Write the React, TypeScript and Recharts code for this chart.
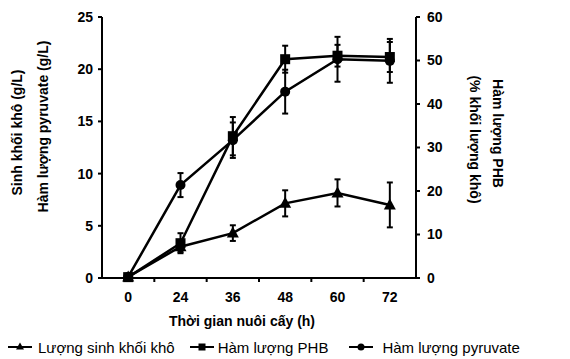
import React from 'react';
import { LineChart, Line, XAxis, YAxis, ErrorBar, Legend } from 'recharts';

const categories = ['0', '24', '36', '48', '60', '72'];
const biomass = [0.1, 3.0, 4.3, 7.15, 8.15, 7.0];
const biomassErr = [0, 0.5, 0.75, 1.25, 1.3, 2.15];
const phb = [0.2, 8.0, 32.6, 50.3, 51.1, 50.8];
const phbErr = [0, 2.3, 4.4, 3.1, 2.5, 3.45];
const pyruvate = [0.1, 8.9, 13.2, 17.85, 20.95, 20.8];
const pyruvateErr = [0, 1.15, 1.7, 2.1, 2.15, 2.1];

const leftTicks = [0, 5, 10, 15, 20, 25];
const rightTicks = [0, 10, 20, 30, 40, 50, 60];

const seriesNames = ['Lượng sinh khối khô', 'Hàm lượng PHB', 'Hàm lượng pyruvate'];
const xTitle = 'Thời gian nuôi cấy (h)';
const leftTitle = ['Sinh khối khô (g/L)', 'Hàm lượng pyruvate (g/L)'];
const rightTitle = ['Hàm lượng PHB', '(% khối lượng khô)'];

const data = categories.map((c, i) => ({
  t: c,
  biomass: biomass[i],
  biomassErr: biomassErr[i],
  phb: phb[i],
  phbErr: phbErr[i],
  pyruvate: pyruvate[i],
  pyruvateErr: pyruvateErr[i],
}));

const FONT = '"Liberation Sans", Arial, sans-serif';

const Tri = (p: any) => {
  const { cx, cy } = p;
  if (cx == null || cy == null) return <g key={p.index} />;
  return (
    <polygon key={p.index} points={`${cx},${cy - 6.5} ${cx - 6},${cy + 4.5} ${cx + 6},${cy + 4.5}`} fill="#000" />
  );
};
const Sq = (p: any) => {
  const { cx, cy } = p;
  if (cx == null || cy == null) return <g key={p.index} />;
  return <rect key={p.index} x={cx - 5} y={cy - 5} width={10} height={10} fill="#000" />;
};
const Circ = (p: any) => {
  const { cx, cy } = p;
  if (cx == null || cy == null) return <g key={p.index} />;
  return <circle key={p.index} cx={cx} cy={cy} r={5} fill="#000" />;
};

const XTick = (props: any) => {
  const { x, y, payload, index, visibleTicksCount } = props;
  const half = payload.offset || 0;
  return (
    <g>
      {index < visibleTicksCount - 1 && (
        <line x1={x + half} x2={x + half} y1={y} y2={y + 4} stroke="#000" strokeWidth={2} />
      )}
      <text x={x} y={y + 24} textAnchor="middle" fontFamily={FONT} fontSize={14} fontWeight="bold" fill="#000">
        {payload.value}
      </text>
    </g>
  );
};

const LegendIcon = ({ kind }: { kind: number }) => (
  <svg width={26} height={12} style={{ display: 'block' }}>
    <line x1={1} x2={25} y1={6} y2={6} stroke="#000" strokeWidth={2} />
    {kind === 0 && <polygon points="13,1.5 9,8.5 17,8.5" fill="#000" />}
    {kind === 1 && <rect x={9.5} y={2.5} width={7} height={7} fill="#000" />}
    {kind === 2 && <circle cx={13} cy={6} r={3.5} fill="#000" />}
  </svg>
);

const gaps = [14, 20, 0];
const iconGaps = [5, 3, 8];

const renderLegend = () => (
  <div style={{ display: 'flex', alignItems: 'center', height: 24, paddingLeft: 7, fontFamily: FONT, fontSize: 15, color: '#000' }}>
    {seriesNames.map((n, i) => (
      <div key={n} style={{ display: 'flex', alignItems: 'center', marginRight: gaps[i] }}>
        <LegendIcon kind={i} />
        <span style={{ marginLeft: iconGaps[i], whiteSpace: 'nowrap' }}>{n}</span>
      </div>
    ))}
  </div>
);

export default function App() {
  return (
    <div style={{ position: 'absolute', left: 0, top: 0, width: 570, height: 359, background: '#fff' }}>
      <LineChart width={570} height={359} data={data} margin={{ top: 17, right: 0, left: 0, bottom: 0 }}>
        <XAxis
          dataKey="t"
          type="category"
          scale="band"
          height={57}
          tickSize={0}
          tickMargin={0}
          axisLine={{ stroke: '#000', strokeWidth: 2 }}
          tick={<XTick />}
          interval={0}
          label={{
            content: (p: any) => {
              const vb = p.viewBox;
              return (
                <text x={vb.x + vb.width / 2 - 17} y={vb.y + 48} textAnchor="middle" fontFamily={FONT} fontSize={14} fontWeight="bold" fill="#000">
                  {xTitle}
                </text>
              );
            },
          }}
        />
        <YAxis
          yAxisId="left"
          orientation="left"
          width={102}
          domain={[0, 25]}
          ticks={leftTicks}
          interval={0}
          tickSize={4}
          tickMargin={5}
          axisLine={{ stroke: '#000', strokeWidth: 2 }}
          tickLine={{ stroke: '#000', strokeWidth: 2 }}
          tick={{ fontFamily: FONT, fontSize: 14, fontWeight: 'bold', fill: '#000' }}
          label={{
            content: (p: any) => {
              const vb = p.viewBox;
              const cy = vb.y + vb.height / 2 - 15;
              return (
                <g fontFamily={FONT} fontSize={14} fontWeight="bold" fill="#000">
                  <text x={22} y={cy} transform={`rotate(-90, 22, ${cy})`} textAnchor="middle">{leftTitle[0]}</text>
                  <text x={48} y={cy - 6} transform={`rotate(-90, 48, ${cy - 6})`} textAnchor="middle">{leftTitle[1]}</text>
                </g>
              );
            },
          }}
        />
        <YAxis
          yAxisId="right"
          orientation="right"
          width={154}
          domain={[0, 60]}
          ticks={rightTicks}
          interval={0}
          tickSize={4}
          tickMargin={7}
          axisLine={{ stroke: '#000', strokeWidth: 2 }}
          tickLine={{ stroke: '#000', strokeWidth: 2 }}
          tick={{ fontFamily: FONT, fontSize: 14, fontWeight: 'bold', fill: '#000' }}
          label={{
            content: (p: any) => {
              const vb = p.viewBox;
              const cy = vb.y + vb.height / 2 - 14;
              return (
                <g fontFamily={FONT} fontSize={14} fontWeight="bold" fill="#000">
                  <text x={493} y={cy} transform={`rotate(90, 493, ${cy})`} textAnchor="middle">{rightTitle[0]}</text>
                  <text x={470} y={cy + 6} transform={`rotate(90, 470, ${cy + 6})`} textAnchor="middle">{rightTitle[1]}</text>
                </g>
              );
            },
          }}
        />
        <Legend verticalAlign="bottom" align="left" height={24} content={renderLegend} />
        <Line yAxisId="left" dataKey="biomass" name={seriesNames[0]} stroke="#000" strokeWidth={2.5} dot={Tri} activeDot={false} isAnimationActive={false}>
          <ErrorBar dataKey="biomassErr" direction="y" width={3} stroke="#000" strokeWidth={2} />
        </Line>
        <Line yAxisId="right" dataKey="phb" name={seriesNames[1]} stroke="#000" strokeWidth={2.5} dot={Sq} activeDot={false} isAnimationActive={false}>
          <ErrorBar dataKey="phbErr" direction="y" width={3} stroke="#000" strokeWidth={2} />
        </Line>
        <Line yAxisId="left" dataKey="pyruvate" name={seriesNames[2]} stroke="#000" strokeWidth={2.5} dot={Circ} activeDot={false} isAnimationActive={false}>
          <ErrorBar dataKey="pyruvateErr" direction="y" width={3} stroke="#000" strokeWidth={2} />
        </Line>
      </LineChart>
    </div>
  );
}
